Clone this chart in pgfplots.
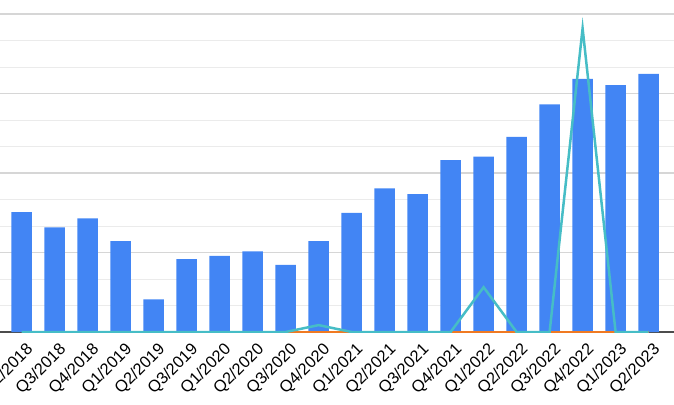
\documentclass[border=0pt]{standalone}
\usepackage{pgfplots}
\pgfplotsset{compat=1.18}
\usepackage{fontspec}
\setmainfont{Liberation Sans}
\definecolor{barblue}{HTML}{4285F4}
\definecolor{tealline}{HTML}{46BDC6}
\definecolor{orangeline}{HTML}{F07A22}
\definecolor{gridmaj}{HTML}{D6D6D6}
\definecolor{gridmin}{HTML}{EBEBEB}
\begin{document}
\begin{tikzpicture}
\begin{axis}[
    name=ax,
    scale only axis, width=674bp, height=332bp,
    xmin=-0.657, xmax=19.77, ymin=0, ymax=12.53,
    axis x line*=bottom, axis y line*=left,
    x axis line style={draw=black!70, line width=1.2bp},
    y axis line style={draw=none},
    xtick={0,...,19},
    xticklabels={Q2/2018,Q3/2018,Q4/2018,Q1/2019,Q2/2019,Q3/2019,Q1/2020,Q2/2020,Q3/2020,Q4/2020,Q1/2021,Q2/2021,Q3/2021,Q4/2021,Q1/2022,Q2/2022,Q3/2022,Q4/2022,Q1/2023,Q2/2023},
    xticklabel style={font=\fontsize{16.5}{20}\selectfont, rotate=45, anchor=east, xshift=-1bp, yshift=-17bp},
    ytick={0,3,6,9,12}, yticklabels={},
    minor ytick={1,2,4,5,7,8,10,11},
    major tick length=0, minor tick length=0,
    ymajorgrids, yminorgrids,
    major grid style={draw=gridmaj, line width=1.5bp},
    minor grid style={draw=gridmin, line width=1bp},
]
\addplot[ybar, bar width=20.5bp, fill=barblue, draw=none] coordinates {
(0,4.52) (1,3.95) (2,4.29) (3,3.43) (4,1.23) (5,2.75) (6,2.87) (7,3.04) (8,2.53) (9,3.43)
(10,4.50) (11,5.42) (12,5.20) (13,6.49) (14,6.62) (15,7.36) (16,8.59) (17,9.55) (18,9.32) (19,9.74)};
\addplot[orangeline, line width=2.5bp, mark=none] coordinates {
(8,0) (9,0) (10,0) (11,0) (12,0) (13,0) (14,0) (15,0) (16,0) (17,0) (18,0) (19,0)};
\addplot[tealline, line width=2.5bp, mark=none] coordinates {
(0,0) (1,0) (2,0) (3,0) (4,0) (5,0) (6,0) (7,0) (8,0) (9,0.26)
(10,0) (11,0) (12,0) (13,0) (14,1.69) (15,0) (16,0) (17,11.46) (18,0) (19,0)};
\end{axis}
\pgfresetboundingbox
\path[use as bounding box] ([yshift=-73bp]ax.south west) rectangle (ax.north east);
\end{tikzpicture}
\end{document}
